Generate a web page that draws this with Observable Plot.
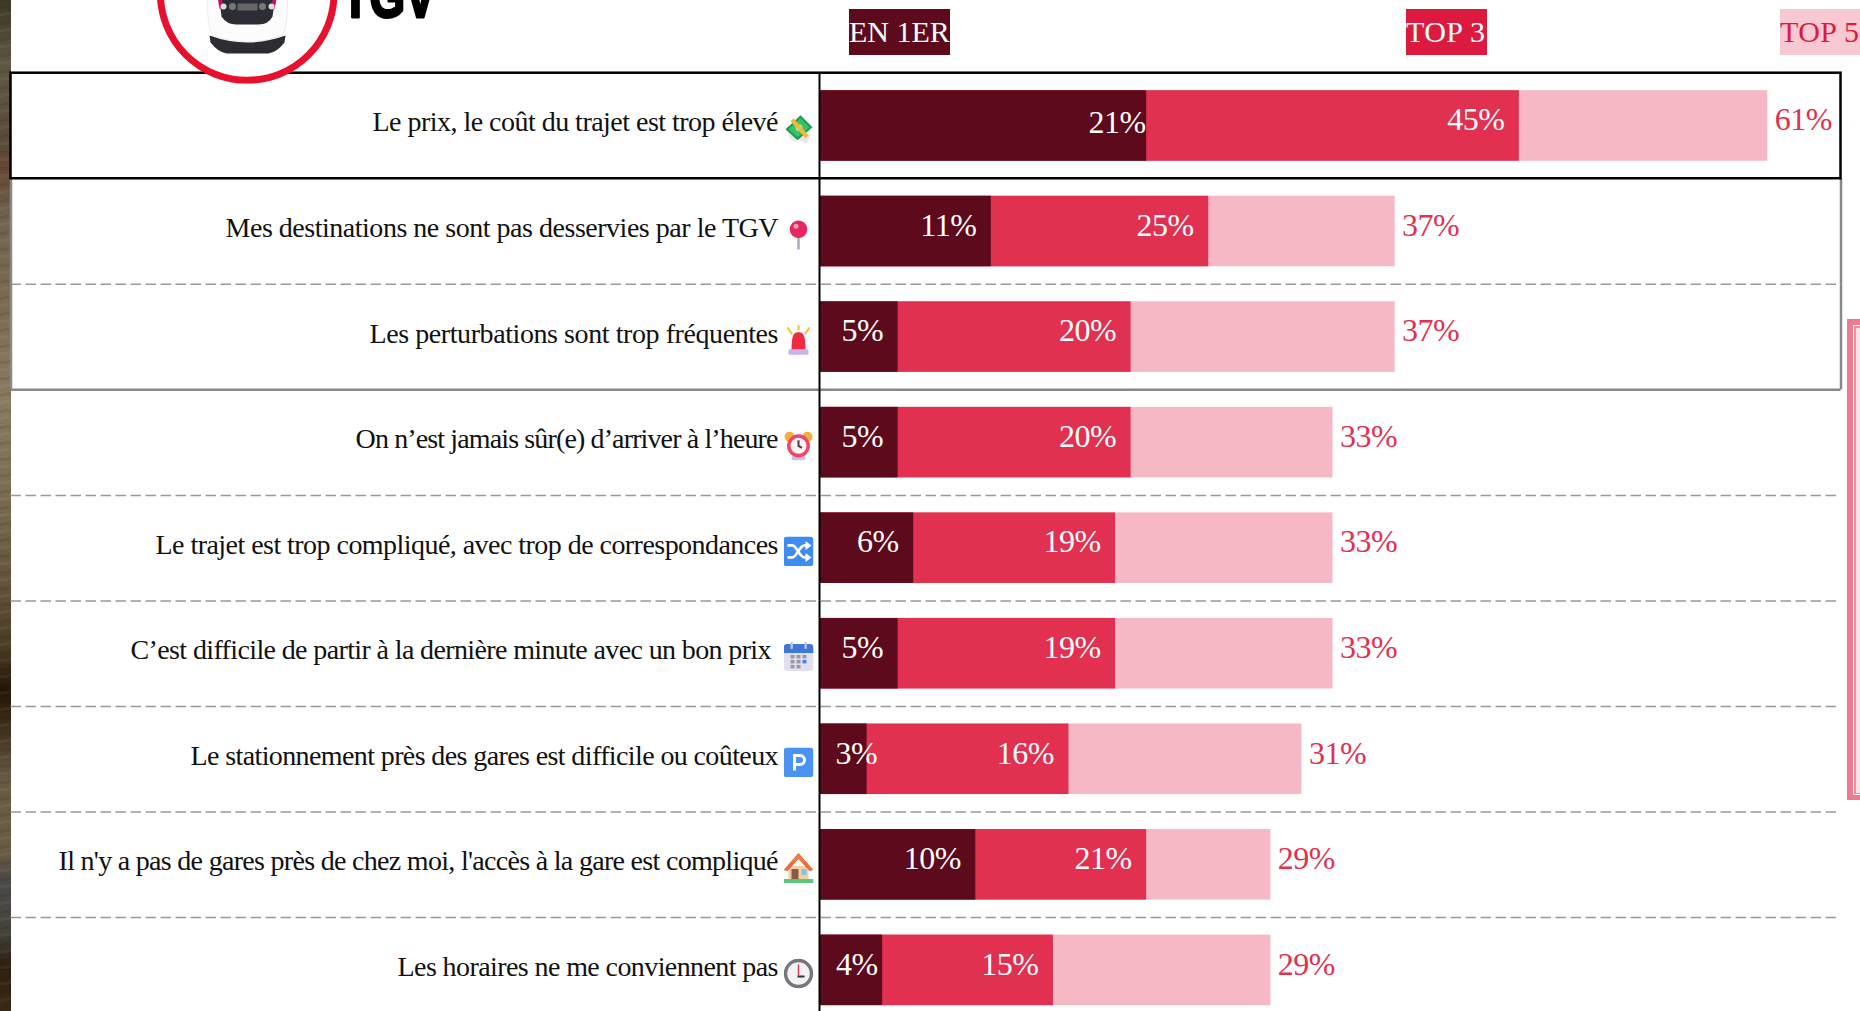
<!DOCTYPE html>
<html><head><meta charset="utf-8">
<script src="https://cdn.jsdelivr.net/npm/d3@7"></script>
<script src="https://cdn.jsdelivr.net/npm/@observablehq/plot@0.6"></script>
<style>
html,body{margin:0;padding:0;background:#fff;overflow:hidden;width:1860px;height:1011px}
svg{display:block}
#c{position:absolute;left:0;top:0;z-index:2}
.abs{position:absolute}
.badge{position:absolute;top:9px;height:46px;font:30px/46px "Liberation Serif",serif;white-space:nowrap;overflow:hidden;z-index:3}
#strip{left:0;top:0;width:11px;height:1011px;background:
 repeating-linear-gradient(172deg,transparent 0 6px,rgba(20,10,0,.09) 6px 9px,transparent 9px 13px,rgba(255,240,210,.05) 13px 16px),
 linear-gradient(180deg,#3c3826 0,#5f5843 65px,#5a4a38 150px,#6a4530 165px,#6f6450 220px,#7a6a50 300px,#8a7a60 400px,#7a6b50 500px,#5f4e35 600px,#4a3a22 650px,#241606 690px,#3a2a15 720px,#6a5a45 780px,#6b5c42 850px,#4a4a48 880px,#46443c 930px,#2e2010 965px,#3a2a14 1011px)}
</style>
</head><body>
<div id="strip" class="abs"></div>
<div class="abs" style="left:1847px;top:319px;width:13px;height:481px;background:#ee7a90"></div>
<div class="abs" style="left:1853px;top:325px;width:7px;height:470px;background:#fff"></div>
<div class="abs" style="left:1854px;top:326px;width:6px;height:468px;background:#f08ea0"></div>
<div class="abs" style="left:1855.5px;top:327.5px;width:4.5px;height:465px;background:#fbe3e7"></div>
<div class="badge" style="left:849px;width:101px;background:#5c0a1c;color:#fff">EN 1ER</div>
<div class="badge" style="left:1406px;width:81px;background:#dc1a3f;color:#fff;letter-spacing:.4px">TOP 3</div>
<div class="badge" style="left:1780px;width:80px;background:#f8c9d3;color:#dc1a3f;letter-spacing:.4px">TOP 5</div>
<div id="c"></div>
<script>
const categories=["Le prix, le coût du trajet est trop élevé","Mes destinations ne sont pas desservies par le TGV","Les perturbations sont trop fréquentes","On n’est jamais sûr(e) d’arriver à l’heure","Le trajet est trop compliqué, avec trop de correspondances","C’est difficile de partir à la dernière minute avec un bon prix","Le stationnement près des gares est difficile ou coûteux","Il n'y a pas de gares près de chez moi, l'accès à la gare est compliqué","Les horaires ne me conviennent pas"];
const en1er=[21,11,5,5,6,5,3,10,4];
const top3=[45,25,20,20,19,19,16,21,15];
const top5=[61,37,37,33,33,33,31,29,29];
const labelWidths=[406,553,409,423,623,641,588,720,381];
const svg=(b,vb="0 0 30 30")=>"data:image/svg+xml,"+encodeURIComponent(`<svg xmlns="http://www.w3.org/2000/svg" viewBox="${vb}">${b}</svg>`);
const icons=[
 `<path d="M2 14 L13 20 L12 28 L7 25Z" fill="#e8e8e8"/><path d="M16 18 L28 20 L23 29 L16 26Z" fill="#e6e6e6"/><path d="M2 15 L17 1 L29 13 L14 26Z" fill="#1f9d4e"/><path d="M5 15 L17 4 L26 13 L14 23Z" fill="#35c46b"/><circle cx="15.500" cy="13.500" r="3.500" fill="#a8e8bf"/><path d="M7 7 L10 4 L25 21 L22 24Z" fill="#f7b733"/>`,
 `<rect x="13.800" y="15" width="2.400" height="15" fill="#a9a6bb"/><circle cx="15" cy="9.500" r="8.800" fill="#e8265f"/><circle cx="12.500" cy="6.500" r="2.500" fill="#f79ab5"/>`,
 `<path d="M8 25 C8 8 11 7 15 7 C19 7 22 8 22 25Z" fill="#ef2b42"/><rect x="5" y="24" width="20" height="5.500" rx="1.500" fill="#c9b3ec"/><path d="M15 0V4M4.500 3L8 8M25.500 3L22 8" stroke="#f6c33d" stroke-width="2.200" stroke-linecap="round"/>`,
 `<circle cx="6" cy="6" r="5" fill="#f2b035"/><circle cx="24" cy="6" r="5" fill="#f2b035"/><rect x="8" y="25" width="14" height="4.500" rx="2" fill="#cdbde8"/><circle cx="15" cy="15" r="11.500" fill="#f0466a"/><circle cx="15" cy="15" r="8" fill="#fdf3f3"/><path d="M15 9.500V15L18.500 17" stroke="#444" stroke-width="2" fill="none"/>`,
 `<rect x="0" y="0" width="30" height="30" rx="4" fill="#3f8cf0"/><path d="M4 9H9C13 9 16 21 21 21H25M4 21H9C13 21 16 9 21 9H25" stroke="#fff" stroke-width="2.800" fill="none"/><path d="M22 4.500L28 9L22 13.500ZM22 16.500L28 21L22 25.500Z" fill="#fff"/>`,
 `<rect x="0" y="2" width="30" height="27" rx="4" fill="#e2dfee"/><path d="M0 11V6Q0 2 4 2H26Q30 2 30 6V11Z" fill="#3d78d8"/><rect x="7" y="0" width="2.400" height="7" rx="1" fill="#b9c6e3"/><rect x="21" y="0" width="2.400" height="7" rx="1" fill="#b9c6e3"/><g fill="#9a98aa"><rect x="7" y="13" width="4" height="3.500"/><rect x="13" y="13" width="4" height="3.500"/><rect x="19" y="13" width="4" height="3.500"/><rect x="7" y="18" width="4" height="3.500"/><rect x="13" y="18" width="4" height="3.500"/><rect x="7" y="23" width="4" height="3.500"/><rect x="13" y="23" width="4" height="3.500"/></g><rect x="19" y="18" width="4" height="3.500" fill="#3d88e8"/>`,
 `<rect x="0" y="0" width="30" height="30" rx="4" fill="#4b93f2"/><path d="M11 23V8H16.500A4.500 4.500 0 0 1 16.500 17H11" stroke="#fff" stroke-width="3" fill="none"/>`,
 `<rect x="5" y="13" width="20" height="14" fill="#f5cfa3"/><rect x="8" y="16" width="7" height="11" fill="#8a5a44"/><rect x="18" y="16" width="5" height="6" fill="#7fc4ee"/><path d="M0 17L15 0L30 17L26 18L15 6L4 18Z" fill="#ef6a38"/><path d="M7 10L15 2L23 10L15 6Z" fill="#f38048"/><rect x="0" y="26" width="30" height="4" fill="#56c878"/>`,
 `<circle cx="15" cy="15" r="13" fill="#f2f2f4" stroke="#77767c" stroke-width="3.500"/><path d="M15 6V17" stroke="#d8334a" stroke-width="1.400"/><path d="M14 18H21" stroke="#333" stroke-width="2"/>`
].map(b=>svg(b));
const logo=svg(`<circle cx="246.700" cy="-7" r="86.800" fill="#fff" stroke="#e8112d" stroke-width="7"/>
<path d="M207 -10 Q206 25 212 35 Q247 48 282 35 Q288 25 287 -10Z" fill="#fcfcfc" stroke="#ececec" stroke-width="1"/>
<path d="M218 -10 L221 16 Q226 24 236 24 H258 Q268 24 272 16 L276 -10Z" fill="#2c2c34"/>
<path d="M218 -10 L221 8 M276 -10 L272 8" stroke="#c0116a" stroke-width="4"/>
<circle cx="223" cy="6" r="3" fill="#ddd"/><circle cx="271" cy="6" r="3" fill="#ddd"/><circle cx="232" cy="6" r="3.500" fill="#777"/><circle cx="262" cy="6" r="3.500" fill="#777"/>
<rect x="237" y="3" width="20" height="7" fill="#666"/>
<path d="M209 35 Q247 49 285 35 L284 42 Q276 52 268 53 H226 Q218 52 210 42Z" fill="#2c2c34"/>`,"156.400 -97.300 180.600 180.600");
const rows=categories.map((c,i)=>({c,en1er:en1er[i],top3:top3[i],top5:top5[i],icon:icons[i],w:labelWidths[i]}));
const serif="Liberation Serif";
const k=15.53;
const frameL=(10.5-820)/k, frameR=(1840.5-820)/k, barH={insetTop:17.5,insetBottom:17.5};
const below=52.78;
const std=rows.filter((_,i)=>![0,6,8].includes(i));
const lab=(data,dx,dy)=>Plot.text(data,{y:"c",x:"en1er",text:d=>d.en1er+"%",textAnchor:"end",dx,dy,fontSize:32,fill:"#fff"});
const cat=(data,dx)=>Plot.text(data,{y:"c",x:d=>0,text:"c",textAnchor:"end",dx,dy:-3.5,fontSize:28,fill:"#111"});
const chart=Plot.plot({width:1860,height:1011,margin:0,
 x:{domain:[-820/k,1040/k],range:[0,1860],axis:null},
 y:{type:"band",domain:categories,range:[72.7,1022.65],padding:0,round:false,axis:null},
 style:{fontFamily:serif,background:"transparent"},
 marks:[
  Plot.barX(rows,{y:"c",x1:d=>0,x2:"top5",fill:"#f7b8c5",...barH}),
  Plot.barX(rows,{y:"c",x1:d=>0,x2:"top3",fill:"#e13050",...barH}),
  Plot.barX(rows,{y:"c",x1:d=>0,x2:"en1er",fill:"#5c0a1c",...barH}),
  Plot.ruleY(categories.filter((_,i)=>[1,3,4,5,6,7].includes(i)),{y:d=>d,dy:below,x1:d=>frameL,x2:d=>frameR,stroke:"#999",strokeWidth:1.5,strokeDasharray:"10.5,4.5"}),
  Plot.ruleY([categories[2]],{y:d=>d,dy:below,x1:d=>frameL,x2:d=>frameR,stroke:"#888",strokeWidth:2.5}),
  Plot.tickX(categories.slice(1,3),{x:d=>frameL,y:d=>d,stroke:"#888",strokeWidth:2.5}),
  Plot.tickX(categories.slice(1,3),{x:d=>frameR,y:d=>d,stroke:"#888",strokeWidth:2.5}),
  Plot.tickX(categories,{x:d=>0,y:d=>d,dx:-1,stroke:"#000",strokeWidth:2}),
  Plot.barX(categories.slice(0,1),{y:d=>d,x1:d=>frameL,x2:d=>frameR,fill:"none",stroke:"#000",strokeWidth:2.5}),
  cat(rows.filter((_,i)=>i!==5),-42),
  cat(rows.filter((_,i)=>i===5),-49),
  Plot.image(rows,{y:"c",x:d=>0,src:"icon",width:30,height:30,dx:-22,dy:3.2}),
  Plot.text(rows,{y:"c",x:"top5",text:d=>d.top5+"%",textAnchor:"start",dx:7,dy:-6,fontSize:32,fill:"#e13050"}),
  Plot.text(rows,{y:"c",x:"top3",text:d=>d.top3+"%",textAnchor:"end",dx:-15,dy:-6,fontSize:32,fill:"#fff"}),
  lab(std,-15,-6),lab(rows.filter((_,i)=>i===0),-1,-3),lab(rows.filter((_,i)=>i===6),10,-6),lab(rows.filter((_,i)=>i===8),-5,-6),
  Plot.image([logo],{frameAnchor:"top-left",src:d=>d,width:180.6,height:180.6,dx:246.7,dy:-7}),
  Plot.text(["TGV"],{frameAnchor:"top-left",text:d=>d,textAnchor:"start",lineAnchor:"bottom",dx:341,dy:16,fontSize:62,fontWeight:700,fontFamily:"Liberation Sans",fill:"#000",stroke:"#000",strokeWidth:3})
 ]});
chart.querySelectorAll('text').forEach(t=>{
  const txt=t.textContent, i=categories.indexOf(txt);
  if(i>=0){t.setAttribute("textLength",labelWidths[i]);t.setAttribute("lengthAdjust","spacing");}
  else if(txt==="TGV"){t.setAttribute("textLength",94);t.setAttribute("lengthAdjust","spacingAndGlyphs");}
  else t.style.letterSpacing="-0.5px";
});
document.getElementById("c").append(chart);
</script></body></html>
